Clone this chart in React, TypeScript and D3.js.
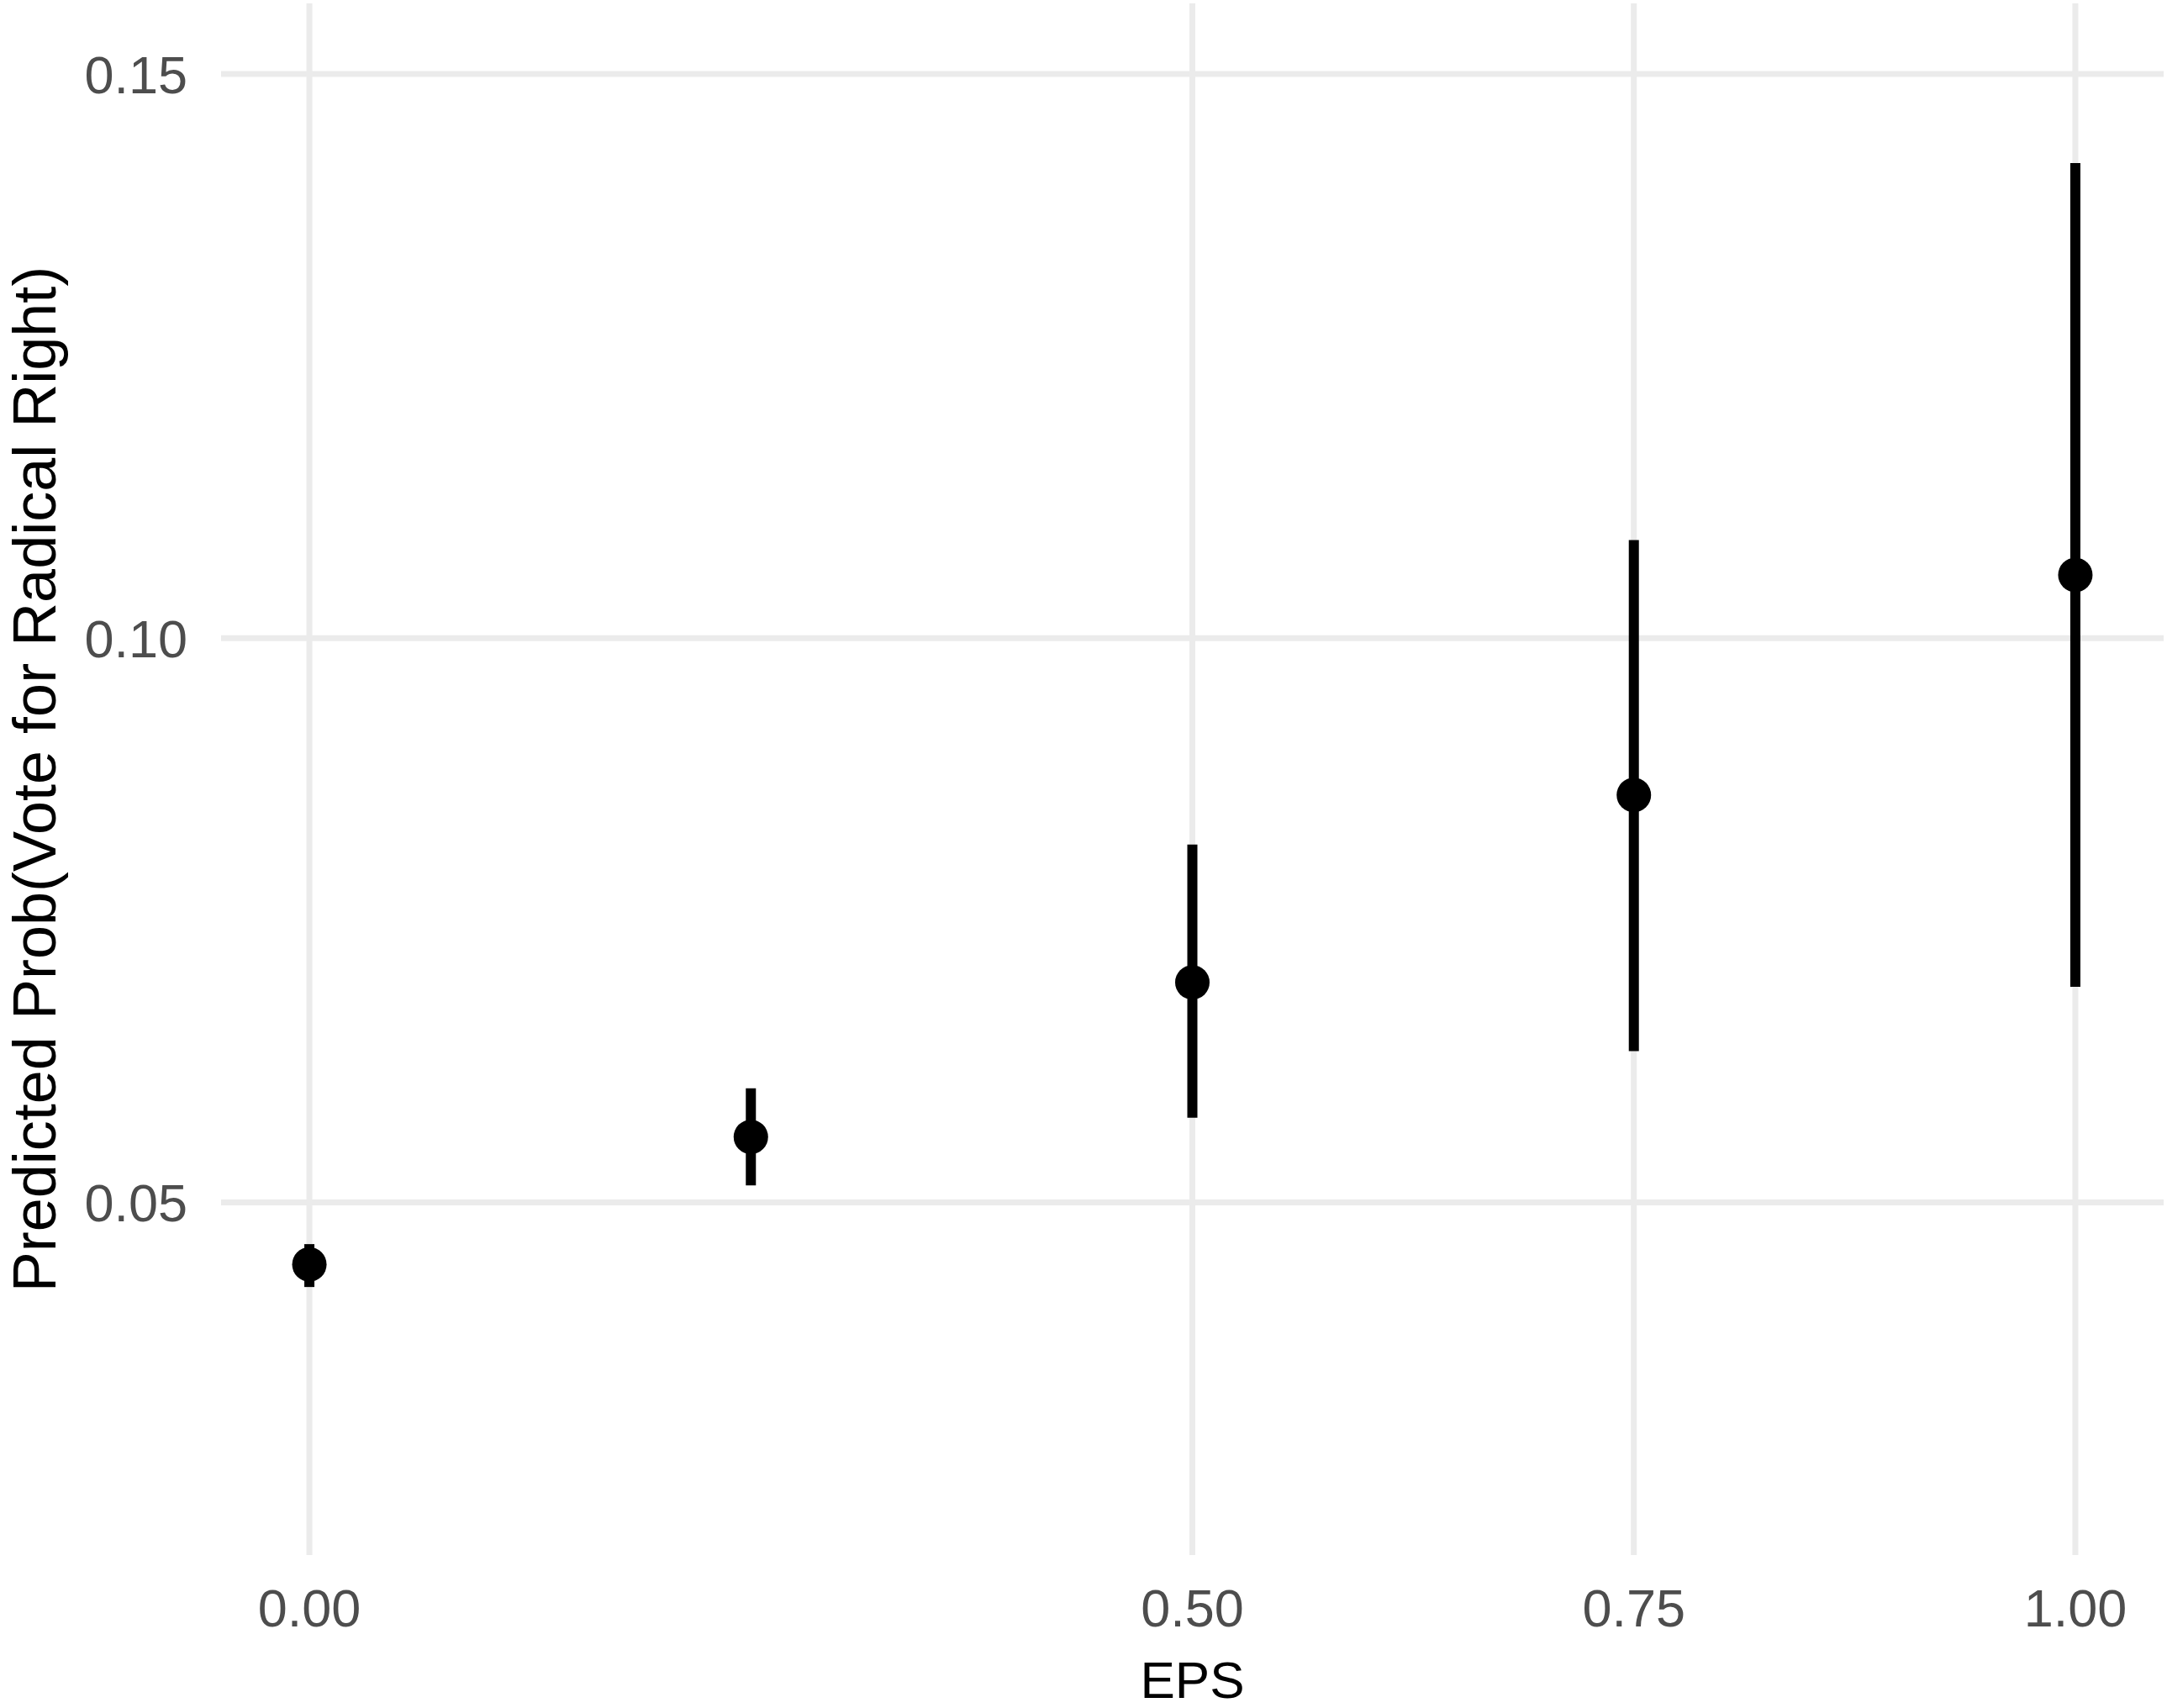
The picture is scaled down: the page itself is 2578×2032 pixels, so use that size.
import * as d3 from "d3";
import { useRef, useEffect } from "react";

// EPS levels and predicted probabilities with 95% intervals
const eps = [0, 0.25, 0.5, 0.75, 1];
const predicted = [0.0445, 0.0558, 0.0695, 0.0861, 0.1056];
const lower = [0.0425, 0.0515, 0.0575, 0.0634, 0.0691];
const upper = [0.0463, 0.0601, 0.0817, 0.1087, 0.1421];

const xTicks = [0, 0.5, 0.75, 1];
const yTicks = [0.05, 0.1, 0.15];

const xTitle = "EPS";
const yTitle = "Predicted Prob(Vote for Radical Right)";

const width = 2578;
const height = 2032;

const margin = {
	top: 4,
	bottom: 182,
	left: 263,
	right: 4,
};

const App = () => {
	const chartRef = useRef(null);

	useEffect(() => {
		const svg = d3.select(chartRef.current);
		svg.selectAll("*").remove();

		const font = "'Liberation Sans', Arial, Helvetica, sans-serif";

		const scaleX = d3
			.scaleLinear()
			.domain([-0.05, 1.05])
			.range([margin.left, width - margin.right]);

		const scaleY = d3
			.scaleLinear()
			.domain([0.01875, 0.15625])
			.range([height - margin.bottom, margin.top]);

		const grid = svg.append("g");

		// горизонтальная сетка
		grid.selectAll(".hgrid")
			.data(yTicks)
			.enter()
			.append("line")
			.attr("x1", margin.left)
			.attr("x2", width - margin.right)
			.attr("y1", d => scaleY(d))
			.attr("y2", d => scaleY(d))
			.style("stroke", "#EBEBEB")
			.style("stroke-width", 7);

		// вертикальная сетка
		grid.selectAll(".vgrid")
			.data(xTicks)
			.enter()
			.append("line")
			.attr("x1", d => scaleX(d))
			.attr("x2", d => scaleX(d))
			.attr("y1", margin.top)
			.attr("y2", height - margin.bottom)
			.style("stroke", "#EBEBEB")
			.style("stroke-width", 7);

		// подписи осей
		svg.selectAll(".ylab")
			.data(yTicks)
			.enter()
			.append("text")
			.attr("x", 223)
			.attr("y", d => scaleY(d))
			.attr("dy", "0.36em")
			.attr("text-anchor", "end")
			.style("font-family", font)
			.style("font-size", "63px")
			.style("fill", "#4D4D4D")
			.text(d => d3.format(".2f")(d));

		svg.selectAll(".xlab")
			.data(xTicks)
			.enter()
			.append("text")
			.attr("x", d => scaleX(d))
			.attr("y", 1935)
			.attr("text-anchor", "middle")
			.style("font-family", font)
			.style("font-size", "63px")
			.style("fill", "#4D4D4D")
			.text(d => d3.format(".2f")(d));

		svg.append("text")
			.attr("x", (margin.left + width - margin.right) / 2)
			.attr("y", 2020)
			.attr("text-anchor", "middle")
			.style("font-family", font)
			.style("font-size", "62px")
			.style("fill", "#000")
			.text(xTitle);

		svg.append("text")
			.attr("transform", `translate(66, ${(margin.top + height - margin.bottom) / 2}) rotate(-90)`)
			.attr("text-anchor", "middle")
			.style("font-family", font)
			.style("font-size", "72px")
			.style("fill", "#000")
			.text(yTitle);

		// доверительные интервалы
		svg.selectAll(".err")
			.data(eps)
			.enter()
			.append("line")
			.attr("x1", d => scaleX(d))
			.attr("x2", d => scaleX(d))
			.attr("y1", (d, i) => scaleY(lower[i]))
			.attr("y2", (d, i) => scaleY(upper[i]))
			.style("stroke", "#000")
			.style("stroke-width", 12);

		// точки
		svg.selectAll(".dot")
			.data(eps)
			.enter()
			.append("circle")
			.attr("cx", d => scaleX(d))
			.attr("cy", (d, i) => scaleY(predicted[i]))
			.attr("r", 20.5)
			.style("fill", "#000");
	}, []);

	return (
		<svg
			ref={chartRef}
			width={width}
			height={height}
			style={{ position: "absolute", left: 0, top: 0, background: "#fff" }}
		></svg>
	);
};

export default App;
